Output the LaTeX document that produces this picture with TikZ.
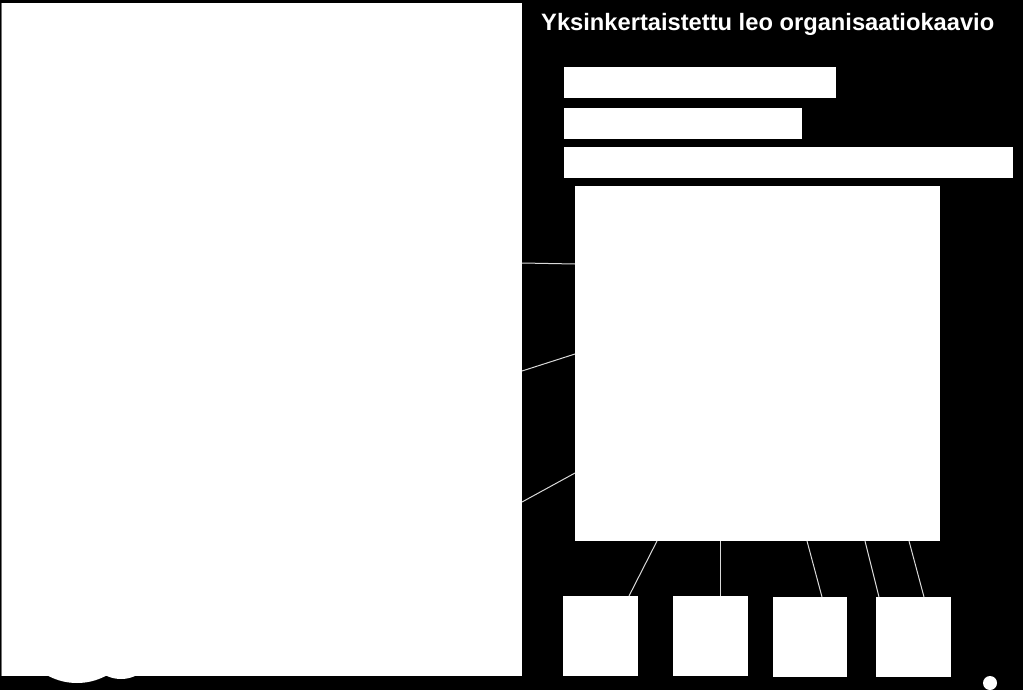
\documentclass[tikz,border=0pt]{standalone}
\usepackage{fontspec}
\newfontfamily\titlefont{Liberation Sans}
\usetikzlibrary{calc}
\tikzset{%
  % Specifications for style of nodes:
	base/.style = {fill=white, draw=none, inner sep=0pt, outer sep=0pt},
	panel/.style = {base, minimum width=521pt, minimum height=673pt},
	bar/.style = {base, minimum height=31pt},
	chart/.style = {base, minimum width=365pt, minimum height=355pt},
	unit/.style = {base, minimum width=75pt, minimum height=80pt},
	title/.style = {anchor=base west, text=white, inner sep=0pt,
                           font=\titlefont\bfseries\fontsize{23.7}{28}\selectfont},
	link/.style = {draw, white!85!black, line width=1pt},
}

\begin{document}
\begin{tikzpicture}[x=1pt, y=-1pt]
  % background and frame
  \fill [black] (0,0) rectangle (1023,690);
  \useasboundingbox (0,0) rectangle (1023,690);

  % Specification of nodes (position, etc.)
  \fill [white] (77,621.5) circle [radius=61.5pt];
  \fill [white] (121,645) circle [radius=34pt];
  \node (panel) [panel] at (261.5,339.5) {};
  \draw [black!55, line width=1pt] (panel.north west) -- (panel.south west);

  \node (heading) [title] at (541,31) {Yksinkertaistettu leo organisaatiokaavio};

  \node (bara) [bar, minimum width=272pt] at (700,82.5) {};
  \node (barb) [bar, minimum width=238pt] at (683,123.5) {};
  \node (barc) [bar, minimum width=449pt] at (788.5,162.5) {};

  \node (chart) [chart] at (757.5,363.5) {};

  \node (unita) [unit] at (600.5,636) {};
  \node (unitb) [unit] at (710.5,636) {};
  \node (unitc) [unit, minimum width=74pt] at (810,637) {};
  \node (unitd) [unit] at (913.5,637) {};

  \node (dot) [base, circle, minimum size=14pt] at (990,683) {};

  % connectors
  \draw [link] ($(panel.north east)+(0,260)$) -- ($(chart.north west)+(0,78)$);
  \draw [link] ($(panel.north east)+(0,368)$) -- ($(chart.north west)+(0,168)$);
  \draw [link] ($(panel.north east)+(0,499)$) -- ($(chart.north west)+(0,287)$);

  \draw [link] ($(chart.south west)+(82,0)$) -- ($(unita.north west)+(66,0)$);
  \draw [link] ($(chart.south west)+(145,0)$) -- ($(unitb.north west)+(47,0)$);
  \draw [link] ($(chart.south west)+(232,0)$) -- ($(unitc.north west)+(49,0)$);
  \draw [link] ($(chart.south west)+(290,0)$) -- ($(unitd.north west)+(3,0)$);
  \draw [link] ($(chart.south west)+(334,0)$) -- ($(unitd.north west)+(48,0)$);

\end{tikzpicture}
\end{document}
